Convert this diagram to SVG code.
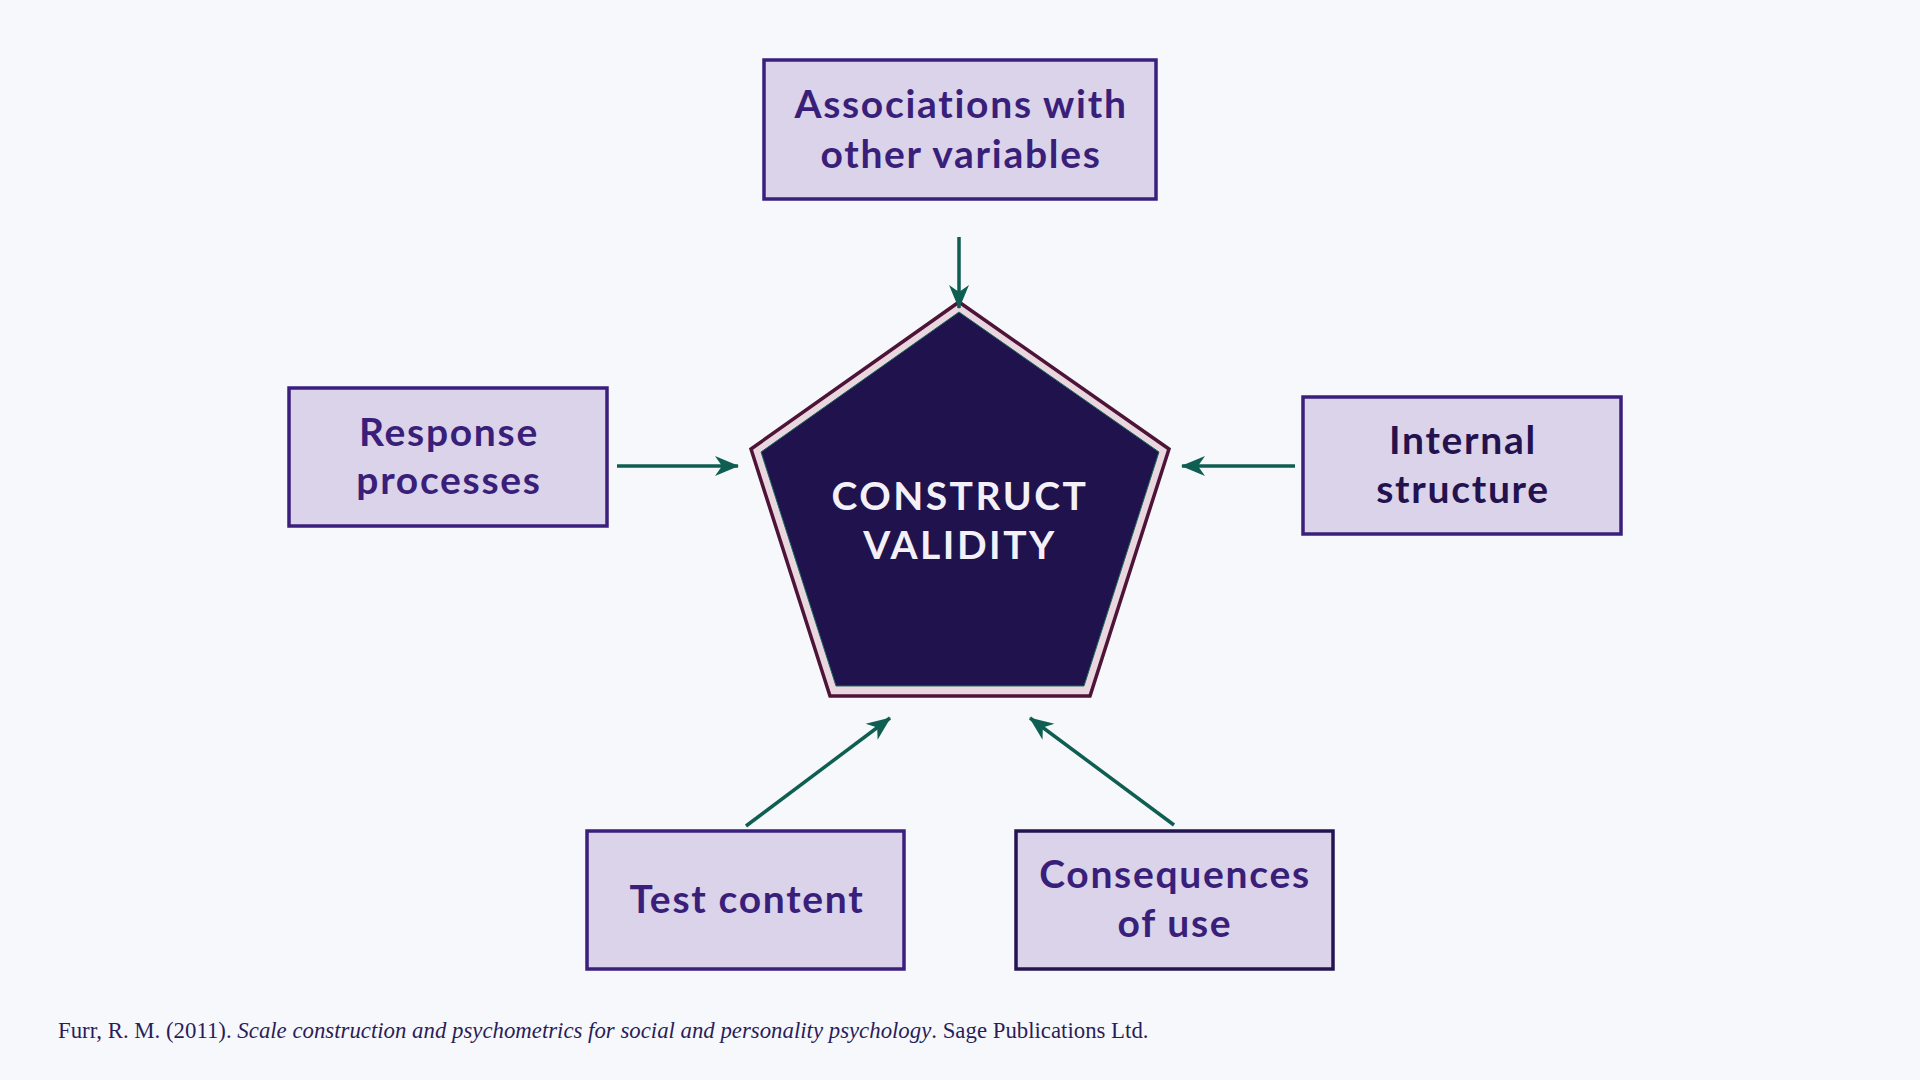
<svg xmlns="http://www.w3.org/2000/svg" width="1920" height="1080" viewBox="0 0 1920 1080">
<defs>
<style>
.box{fill:#dbd3e9;stroke:#3b1f7c;stroke-width:3.5}
.lbl{font-family:Lato,"Liberation Sans",sans-serif;font-weight:700;font-size:39px;letter-spacing:1.7px;fill:#3a1f7a;text-anchor:middle}
.conn{stroke:#0f5e52;stroke-width:3.5;fill:none;marker-end:url(#ah)}
.ref{font-family:"Liberation Serif",serif;font-size:22.8px;fill:#2a1d5a}
</style>
<marker id="ah" markerUnits="userSpaceOnUse" viewBox="-24 -11 26 22" refX="0" refY="0" markerWidth="26" markerHeight="22" orient="auto">
<path d="M1,0 L-23,-10 L-16,0 L-23,10 Z" fill="#0f5e52"/>
</marker>
</defs>
<rect width="1920" height="1080" fill="#f7f8fc"/>

<g id="construct-validity">
<polygon points="959,302 1169,449 1090,696 830,696 751,449" fill="#ead6df" stroke="#4d1438" stroke-width="3.5" stroke-linejoin="miter"/>
<polygon points="959,312 1159,452 1084,686 836,686 761,452" fill="#20124d" stroke="#1a6b5e" stroke-width="1"/>
<text class="lbl" x="960" y="510" style="fill:#f3f0f8;letter-spacing:2.5px">CONSTRUCT</text>
<text class="lbl" x="960" y="559" style="fill:#f3f0f8;letter-spacing:2.5px">VALIDITY</text>
</g>

<g id="associations">
<rect class="box" x="764" y="60" width="392" height="139"/>
<text class="lbl" x="961" y="118">Associations with</text>
<text class="lbl" x="961" y="168">other variables</text>
</g>

<g id="response-processes">
<rect class="box" x="289" y="388" width="318" height="138"/>
<text class="lbl" x="449" y="446">Response</text>
<text class="lbl" x="449" y="494">processes</text>
</g>

<g id="internal-structure">
<rect class="box" x="1303" y="397" width="318" height="137"/>
<text class="lbl" x="1463" y="454" style="fill:#24124f">Internal</text>
<text class="lbl" x="1463" y="503" style="fill:#24124f">structure</text>
</g>

<g id="test-content">
<rect class="box" x="587" y="831" width="317" height="138"/>
<text class="lbl" x="747" y="913">Test content</text>
</g>

<g id="consequences">
<rect class="box" x="1016" y="831" width="317" height="138" style="stroke:#24144f"/>
<text class="lbl" x="1175" y="888">Consequences</text>
<text class="lbl" x="1175" y="937">of use</text>
</g>

<g id="connectors">
<line class="conn" x1="959" y1="237" x2="959" y2="308"/>
<line class="conn" x1="617" y1="466" x2="738" y2="466"/>
<line class="conn" x1="1295" y1="466" x2="1182" y2="466"/>
<line class="conn" x1="746" y1="826" x2="890" y2="718"/>
<line class="conn" x1="1174" y1="825" x2="1030" y2="718"/>
</g>

<text class="ref" x="58" y="1038">Furr, R. M. (2011). <tspan font-style="italic">Scale construction and psychometrics for social and personality psychology</tspan>. Sage Publications Ltd.</text>
</svg>
